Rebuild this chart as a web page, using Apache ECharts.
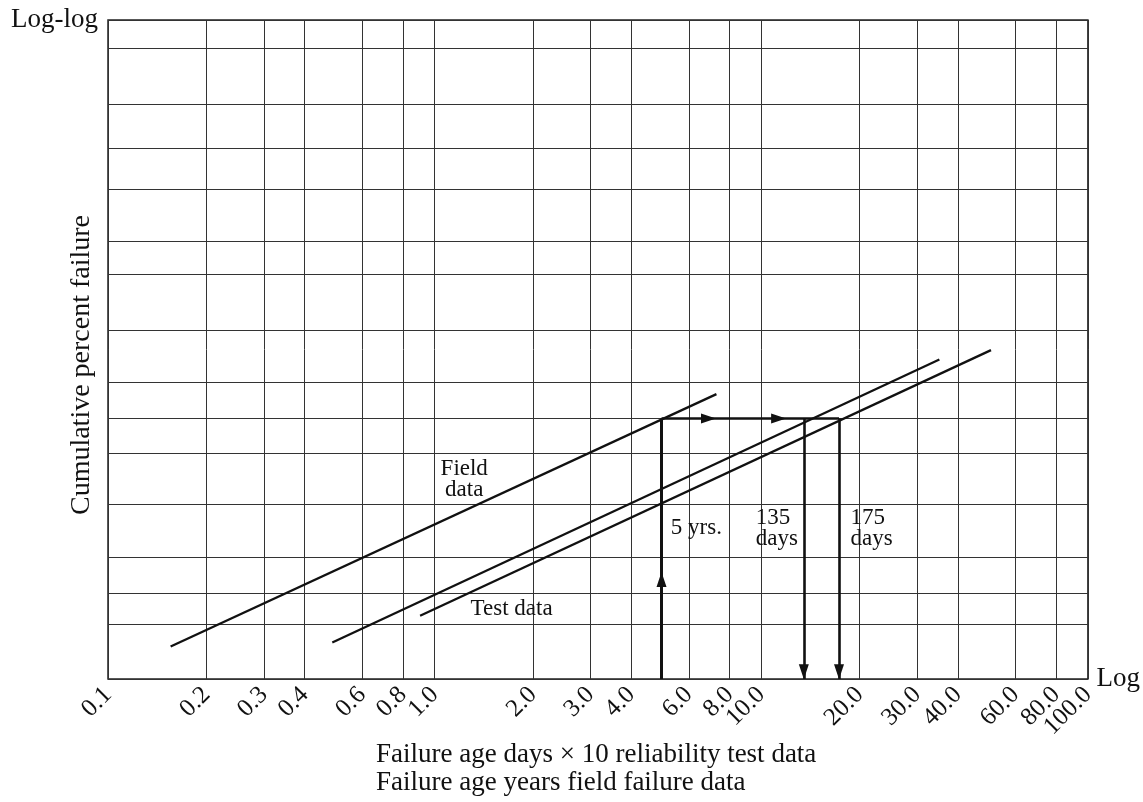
<!DOCTYPE html>
<html><head><meta charset="utf-8">
<script src="https://cdn.jsdelivr.net/npm/echarts@6/dist/echarts.min.js"></script>
<style>html,body{margin:0;padding:0;background:#fff}#chart{width:1143px;height:802px}</style>
</head><body><div id="chart"></div>
<script>
// ---- data ----
const xTickValues = [0.1, 0.2, 0.3, 0.4, 0.6, 0.8, 1, 2, 3, 4, 6, 8, 10, 20, 30, 40, 60, 80, 100];
const xTickLabels = ['0.1', '0.2', '0.3', '0.4', '0.6', '0.8', '1.0', '2.0', '3.0', '4.0', '6.0', '8.0', '10.0', '20.0', '30.0', '40.0', '60.0', '80.0', '100.0'];
// horizontal rulings of the (unlabelled) log-log probability scale, relative units 0-100
const yRulings = [0, 8.34, 12.94, 18.50, 26.51, 34.22, 39.53, 44.99, 52.93, 61.47, 66.37, 74.37, 80.54, 87.21, 95.71, 100];
const fieldData = [[0.1555, 4.94], [7.29, 43.23]];
const testDataUpper = [[0.486, 5.55], [35.1, 48.48]];
const testDataLower = [[0.9025, 9.60], [50.5, 49.9]];
// reading path
const fieldAge = 4.95;          // 5 yrs
const testAges = [13.5, 17.3];  // 135 days, 175 days (days x 10)
const readLevel = 39.53;        // cumulative failure level
const upArrowAt = 15.1;
const acrossArrowsAt = [6.893, 11.30];
const downArrowAt = 1.1;
const noteTexts = ['Field\ndata', 'Test data', '5 yrs.', '135\ndays', '175\ndays'];
const noteX = [1.232, 1.721, 5.285, 9.614, 18.76];
const noteY = [30.27, 10.56, 22.95, 22.9, 22.9];
const noteAlign = ['center', 'center', 'left', 'left', 'left'];

// ---- chart ----
const FONT = 'Liberation Serif';
const INK = '#111';
const chart = echarts.init(document.getElementById('chart'));

const pathSegments = [
  {coords: [[fieldAge, upArrowAt], [fieldAge, readLevel]], lineStyle: {width: 3}},
  {coords: [[acrossArrowsAt[1], readLevel], [testAges[1], readLevel]]},
  {coords: [[testAges[0], downArrowAt], [testAges[0], 0]]},
  {coords: [[testAges[1], downArrowAt], [testAges[1], 0]]}
];
const arrowSegments = [
  {coords: [[fieldAge, 0], [fieldAge, upArrowAt]], lineStyle: {width: 3}},
  {coords: [[fieldAge, readLevel], [acrossArrowsAt[0], readLevel]]},
  {coords: [[acrossArrowsAt[0], readLevel], [acrossArrowsAt[1], readLevel]]},
  {coords: [[testAges[0], readLevel], [testAges[0], downArrowAt]]},
  {coords: [[testAges[1], readLevel], [testAges[1], downArrowAt]]}
];

function tickLabel(v) {
  const i = xTickValues.findIndex(t => Math.abs(t - v) <= 1e-6 * t);
  return i >= 0 ? xTickLabels[i] : '';
}
// label list ordered so that the closely spaced end labels (80.0 / 100.0) are not
// treated as an overlapping first/last pair (all labels of the printed paper are shown)
const labelOrder = xTickValues.slice(0, -3).concat([xTickValues[xTickValues.length - 2], xTickValues[xTickValues.length - 1], xTickValues[xTickValues.length - 3]]);

chart.setOption({
  animation: false,
  backgroundColor: '#fff',
  grid: {left: 108, right: 53, top: 20, bottom: 123, show: true, borderColor: '#222', borderWidth: 1.5},
  title: {
    text: 'Failure age days \u00d7 10 reliability test data\nFailure age years field failure data',
    left: 371, top: 736,
    textStyle: {fontFamily: FONT, fontSize: 27, fontWeight: 'normal', lineHeight: 28, color: INK}
  },
  xAxis: {
    type: 'log', logBase: 10, min: 0.1, max: 100,
    name: 'Log', nameLocation: 'end', nameGap: 7,
    nameTextStyle: {fontFamily: FONT, fontSize: 27, color: INK, verticalAlign: 'middle', padding: [0, 0, 8, 0]},
    axisLine: {show: false},
    axisTick: {show: false, customValues: xTickValues},
    axisLabel: {customValues: labelOrder, rotate: 45, margin: 12, fontFamily: FONT, fontSize: 25, lineHeight: 18, color: INK,
                showMinLabel: true, showMaxLabel: true, hideOverlap: false, formatter: tickLabel},
    splitLine: {show: true, lineStyle: {color: '#333', width: 1}},
    minorSplitLine: {show: false}
  },
  yAxis: [{
    type: 'value', min: 0, max: 100,
    name: 'Cumulative percent failure', nameLocation: 'middle', nameGap: 12,
    nameTextStyle: {fontFamily: FONT, fontSize: 28, color: INK, padding: [0, 31, 0, 0]},
    axisLine: {show: false},
    axisTick: {show: false, customValues: yRulings},
    axisLabel: {show: false},
    splitLine: {show: true, lineStyle: {color: '#333', width: 1}}
  }, {
    type: 'value', min: 0, max: 100, position: 'left',
    name: 'Log-log', nameLocation: 'end', nameGap: 0,
    nameTextStyle: {fontFamily: FONT, fontSize: 27, color: INK, align: 'right', verticalAlign: 'middle', padding: [0, 10, 0, 0]},
    axisLine: {show: false}, axisTick: {show: false}, axisLabel: {show: false}, splitLine: {show: false}
  }],
  series: [
    {name: 'Field data', type: 'line', data: fieldData, symbol: 'none', silent: true, lineStyle: {color: INK, width: 2.3}},
    {name: 'Test data (upper)', type: 'line', data: testDataUpper, symbol: 'none', silent: true, lineStyle: {color: INK, width: 2.3}},
    {name: 'Test data (lower)', type: 'line', data: testDataLower, symbol: 'none', silent: true, lineStyle: {color: INK, width: 2.3}},
    {name: 'Reading path', type: 'lines', coordinateSystem: 'cartesian2d', silent: true,
     symbol: ['none', 'none'], lineStyle: {color: INK, width: 2.6, opacity: 1, curveness: 0},
     data: pathSegments},
    {name: 'Reading arrows', type: 'lines', coordinateSystem: 'cartesian2d', silent: true,
     symbol: ['none', 'triangle'], symbolSize: [1, [10, 15]],
     lineStyle: {color: INK, width: 2.6, opacity: 1, curveness: 0},
     itemStyle: {color: INK},
     data: arrowSegments},
    {name: 'Notes', type: 'scatter', symbolSize: 0, silent: true, itemStyle: {color: INK, opacity: 1},
     data: noteTexts.map((t, i) => ({name: t, value: [noteX[i], noteY[i]], label: {align: noteAlign[i]}})),
     label: {show: true, position: 'inside', formatter: '{b}', fontFamily: FONT, fontSize: 23, lineHeight: 21,
             color: INK, opacity: 1, textBorderWidth: 0, textBorderColor: 'transparent', verticalAlign: 'middle'}}
  ]
});
</script></body></html>
